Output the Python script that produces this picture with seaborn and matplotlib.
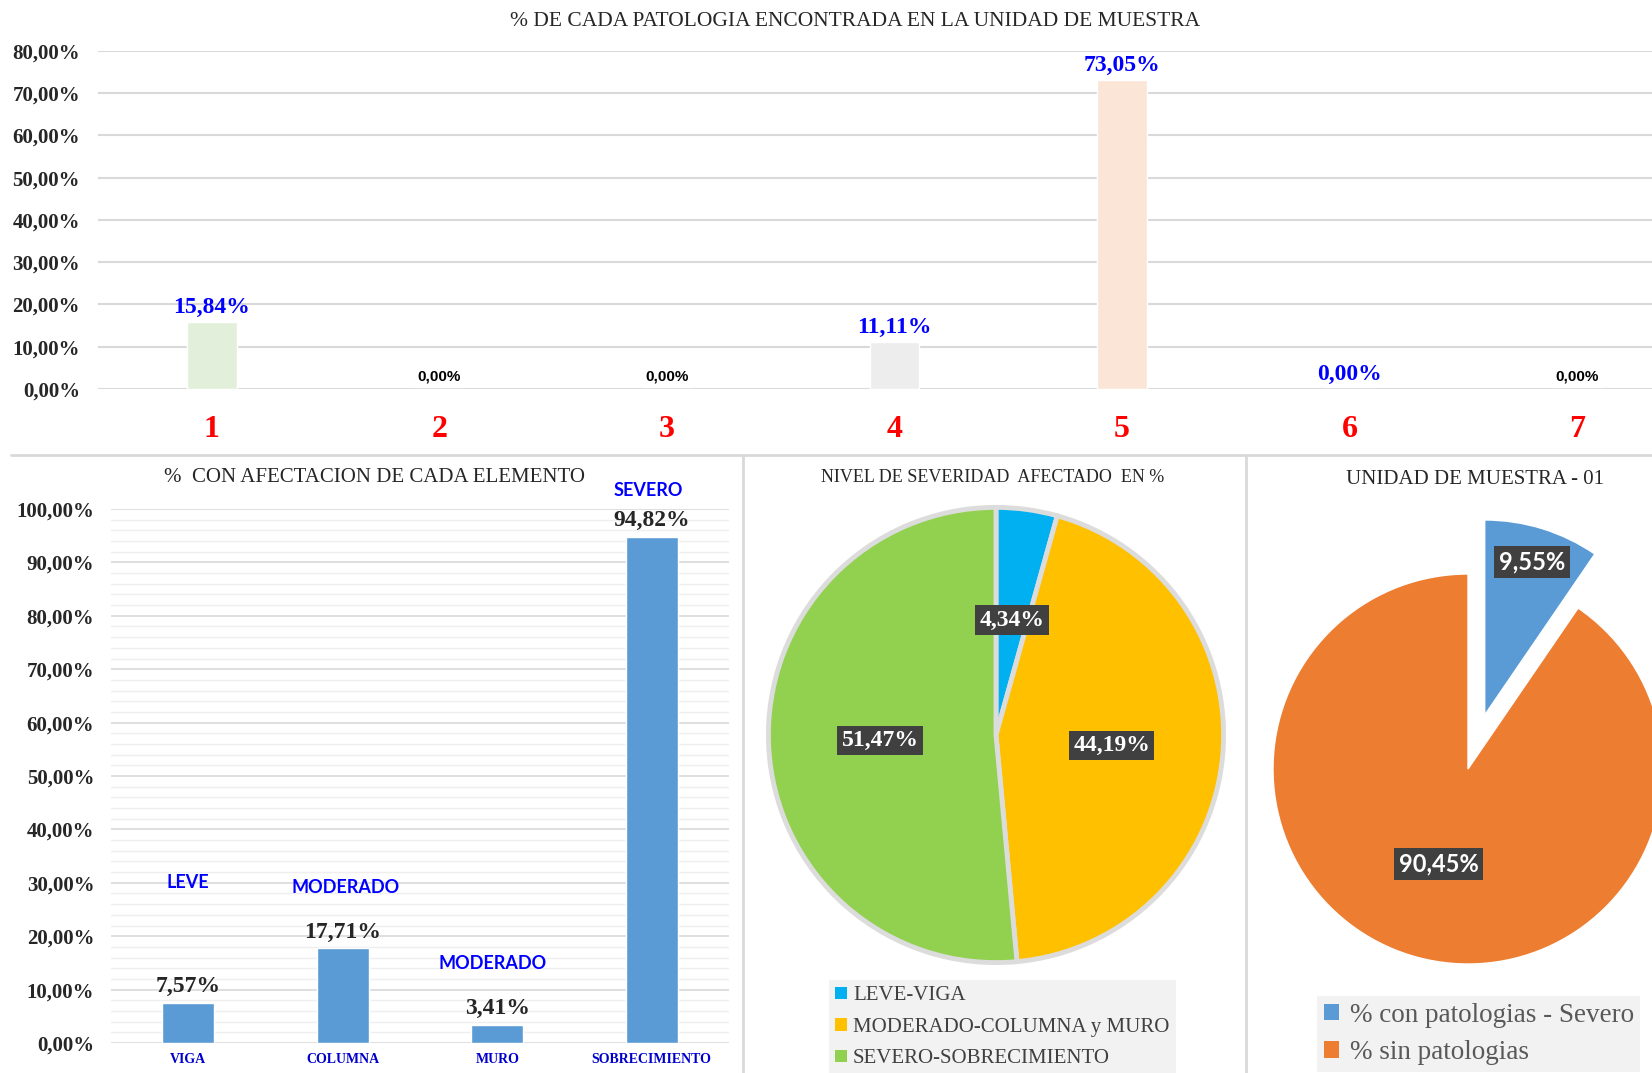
import matplotlib
matplotlib.use("Agg")
import matplotlib.pyplot as plt
import seaborn as sns
import numpy as np
from matplotlib.patches import Patch
from matplotlib.lines import Line2D
from matplotlib.ticker import MultipleLocator, FuncFormatter

# --- datos ---------------------------------------------------------------
patologias = ["1", "2", "3", "4", "5", "6", "7"]
pct_patologia = [15.84, 0.00, 0.00, 11.11, 73.05, 0.00, 0.00]
colores_patologia = ["#E2EFDA", "#FFFFFF", "#FFFFFF", "#EDEDED", "#FBE5D6", "#FFFFFF", "#FFFFFF"]

elementos = ["VIGA", "COLUMNA", "MURO", "SOBRECIMIENTO"]
pct_elemento = [7.57, 17.71, 3.41, 94.82]
nivel_elemento = ["LEVE", "MODERADO", "MODERADO", "SEVERO"]

severidad = ["LEVE-VIGA", "MODERADO-COLUMNA y MURO", "SEVERO-SOBRECIMIENTO"]
pct_severidad = [4.34, 44.19, 51.47]
colores_severidad = ["#00B0F0", "#FFC000", "#92D050"]

muestra = ["% con patologias - Severo", "% sin patologias"]
pct_muestra = [9.55, 90.45]
colores_muestra = ["#5B9BD5", "#ED7D31"]


def fmt(v):
    return f"{v:.2f}".replace(".", ",") + "%"


sns.set_style("white")
plt.rcParams["font.family"] = ["Liberation Serif", "DejaVu Serif"]
SERIF = "Liberation Serif"
SANS = "Lato"
NARROW = ["Liberation Sans Narrow", "Liberation Sans"]

W, H = 1652, 1073
fig = plt.figure(figsize=(W / 100, H / 100), dpi=100)


def box(left, top, right, bottom):
    return [left / W, 1 - bottom / H, (right - left) / W, (bottom - top) / H]


# --- grafico superior ----------------------------------------------------
ax1 = fig.add_axes(box(98, 51, W, 389))
sns.barplot(x=patologias, y=pct_patologia, hue=patologias, palette=colores_patologia,
            legend=False, width=0.218, saturation=1, ax=ax1)
ax1.set_ylim(0, 80)
ax1.set_xlim(-0.5, 6.33)
ax1.yaxis.set_major_locator(MultipleLocator(10))
ax1.yaxis.set_major_formatter(FuncFormatter(lambda v, p: fmt(v)))
ax1.grid(axis="y", color="#D9D9D9", lw=1.5)
ax1.set_axisbelow(True)
for s in ax1.spines.values():
    s.set_visible(False)
ax1.set_xlabel("")
ax1.set_ylabel("")
ax1.tick_params(axis="y", length=0, pad=13)
ax1.tick_params(axis="x", length=0, pad=19)
for t in ax1.get_yticklabels():
    t.set_fontweight("bold")
    t.set_fontsize(15)
for t in ax1.get_xticklabels():
    t.set_fontweight("bold")
    t.set_fontsize(23)
    t.set_color("#FF0000")

for i, v in enumerate(pct_patologia):
    if i in (1, 2, 6):
        ax1.annotate(fmt(v), (i, v), xytext=(0, 4), textcoords="offset points",
                     ha="center", va="bottom", fontsize=11, fontweight="bold",
                     family=NARROW, color="black")
    else:
        ax1.annotate(fmt(v), (i, v), xytext=(0, 3), textcoords="offset points",
                     ha="center", va="bottom", fontsize=17,
                     fontweight="bold", color="#0000FF")

fig.text(855 / W, 1 - 21 / H, "% DE CADA PATOLOGIA ENCONTRADA EN LA UNIDAD DE MUESTRA",
         ha="center", va="center", fontsize=15.5)

# --- barras por elemento -------------------------------------------------
ax2 = fig.add_axes(box(111, 509, 729, 1043))
sns.barplot(x=elementos, y=pct_elemento, color="#5B9BD5", width=0.334, saturation=1, ax=ax2)
ax2.set_ylim(0, 100)
ax2.set_xlim(-0.5, 3.5)
ax2.yaxis.set_major_locator(MultipleLocator(10))
ax2.yaxis.set_minor_locator(MultipleLocator(2))
ax2.yaxis.set_major_formatter(FuncFormatter(lambda v, p: fmt(v)))
ax2.grid(which="major", axis="y", color="#D9D9D9", lw=1.2)
ax2.grid(which="minor", axis="y", color="#EFEFEF", lw=1)
ax2.set_axisbelow(True)
for s in ax2.spines.values():
    s.set_visible(False)
ax2.set_xlabel("")
ax2.set_ylabel("")
ax2.tick_params(axis="y", which="both", length=0, pad=12)
ax2.tick_params(axis="x", length=0, pad=7)
for t in ax2.get_yticklabels():
    t.set_fontweight("bold")
    t.set_fontsize(15)
for t in ax2.get_xticklabels():
    t.set_fontweight("bold")
    t.set_fontsize(10)
    t.set_color("#0000CC")

for i, v in enumerate(pct_elemento):
    ax2.annotate(fmt(v), (i, v), xytext=(0, 4), textcoords="offset points",
                 ha="center", va="bottom", fontsize=17, fontweight="bold")

# posiciones de las etiquetas de nivel
nivel_pos = [(0, 30), (1.02, 29.2), (1.97, 14.8), (2.98, 103.5)]
for txt, (x, y) in zip(nivel_elemento, nivel_pos):
    ax2.text(x, y, txt, ha="center", va="center", fontsize=13, fontweight="bold",
             family=SANS, color="#0000FF", clip_on=False)

fig.text(374 / W, 1 - 478 / H, "%  CON AFECTACION DE CADA ELEMENTO",
         ha="center", va="center", fontsize=15)

# --- pastel severidad ----------------------------------------------------
R1 = 227.6
cx1, cy1 = 996, 735
ax3 = fig.add_axes(box(cx1 - 1.1 * R1, cy1 - 1.1 * R1, cx1 + 1.1 * R1, cy1 + 1.1 * R1))
w3, _, at3 = ax3.pie(pct_severidad, colors=colores_severidad, startangle=90, counterclock=False,
                     autopct=lambda p: fmt(p), pctdistance=0.51,
                     wedgeprops=dict(edgecolor="#DCDCDC", linewidth=3.5))
ax3.set_xlim(-1.1, 1.1)
ax3.set_ylim(-1.1, 1.1)
for t in at3:
    t.set_color("white")
    t.set_fontweight("bold")
    t.set_fontsize(17)
    t.set_bbox(dict(boxstyle="square,pad=0.18", fc="#404040", ec="none"))

fig.text(993 / W, 1 - 478 / H, "NIVEL DE SEVERIDAD  AFECTADO  EN %",
         ha="center", va="center", fontsize=13)

fig.legend([Patch(facecolor=c, edgecolor="none") for c in colores_severidad], severidad,
           loc="upper left", bbox_to_anchor=(829 / W, 1 - 980 / H), frameon=True,
           facecolor="#F2F2F2", edgecolor="none", fancybox=False, framealpha=1,
           prop=dict(family=SERIF, size=15), labelcolor="#404040",
           handlelength=0.55, handleheight=0.55, handletextpad=0.3,
           labelspacing=0.6, borderpad=0.3, borderaxespad=0)

# --- pastel unidad de muestra --------------------------------------------
R2 = 195
cx2, cy2 = 1468, 769
ax4 = fig.add_axes(box(cx2 - 1.4 * R2, cy2 - 1.4 * R2, cx2 + 1.4 * R2, cy2 + 1.4 * R2))
w4, _, at4 = ax4.pie(pct_muestra, colors=colores_muestra, startangle=90, counterclock=False,
                     explode=[0.29, 0], autopct=lambda p: fmt(p), pctdistance=0.51)
ax4.set_xlim(-1.4, 1.4)
ax4.set_ylim(-1.4, 1.4)
# etiqueta del sector separado mas hacia el borde
wb = w4[0]
ang = np.deg2rad((wb.theta1 + wb.theta2) / 2)
at4[0].set_position((wb.center[0] + 0.82 * wb.r * np.cos(ang),
                     wb.center[1] + 0.82 * wb.r * np.sin(ang)))
for t in at4:
    t.set_color("white")
    t.set_fontweight("bold")
    t.set_fontsize(17)
    t.set_family(SANS)
    t.set_bbox(dict(boxstyle="square,pad=0.2", fc="#404040", ec="none"))

fig.text(1475 / W, 1 - 479 / H, "UNIDAD DE MUESTRA - 01",
         ha="center", va="center", fontsize=15)

fig.legend([Patch(facecolor=c, edgecolor="none") for c in colores_muestra], muestra,
           loc="upper left", bbox_to_anchor=(1317 / W, 1 - 996 / H), frameon=True,
           facecolor="#F2F2F2", edgecolor="none", fancybox=False, framealpha=1,
           prop=dict(family=SERIF, size=19.5), labelcolor="#595959",
           handlelength=0.55, handleheight=0.55, handletextpad=0.4,
           labelspacing=0.45, borderpad=0.25, borderaxespad=0)

# --- lineas de separacion ------------------------------------------------
fig.add_artist(Line2D([11 / W, 1], [1 - 455 / H, 1 - 455 / H], color="#D9D9D9", lw=2))
fig.add_artist(Line2D([743 / W, 743 / W], [0, 1 - 455 / H], color="#D9D9D9", lw=2))
fig.add_artist(Line2D([1246 / W, 1246 / W], [0, 1 - 455 / H], color="#D9D9D9", lw=2))

fig.savefig("out.png", dpi=100)
